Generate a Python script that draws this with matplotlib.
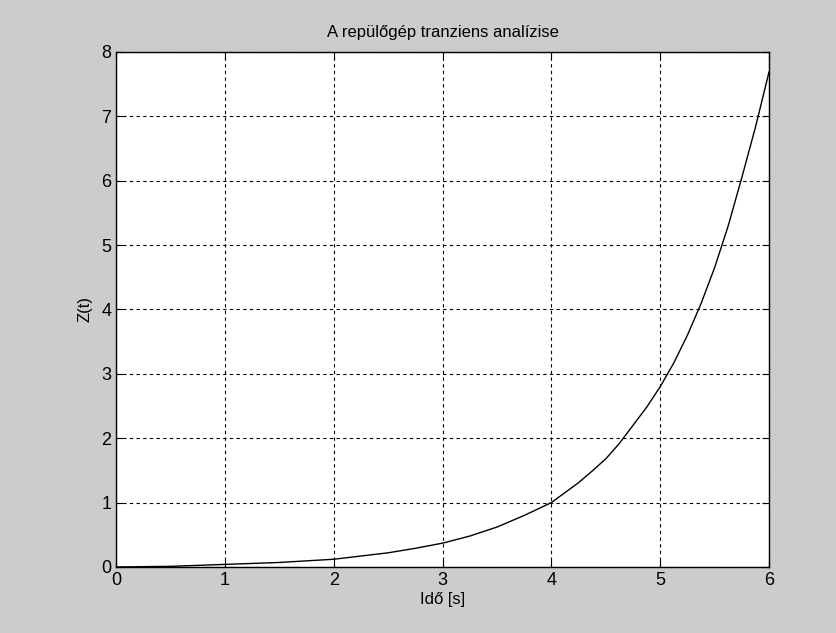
import matplotlib
matplotlib.use('Agg')
import matplotlib.pyplot as plt

# Values
ido = [0.0, 0.5, 1.0, 1.5, 2.0, 2.5, 2.75, 3.0, 3.25, 3.5, 3.75, 4.0, 4.25, 4.375, 4.5,
       4.625, 4.75, 4.875, 5.0, 5.125, 5.25, 5.375, 5.5, 5.625, 5.75, 5.875, 6.0]
z_t = [0.0, 0.01, 0.04, 0.07, 0.12, 0.22, 0.29, 0.37, 0.48, 0.62, 0.80, 1.0, 1.31, 1.49, 1.68,
       1.92, 2.20, 2.48, 2.80, 3.17, 3.60, 4.09, 4.65, 5.30, 6.05, 6.83, 7.69]
x_ticks = [0, 1, 2, 3, 4, 5, 6]
y_ticks = [0, 1, 2, 3, 4, 5, 6, 7, 8]

plt.rcParams['font.family'] = ['Liberation Sans', 'DejaVu Sans']

fig = plt.figure(figsize=(8.37, 6.33), dpi=100, facecolor='#cccccc')
ax = fig.add_axes([0.1386, 0.1043, 0.7802, 0.8136])
ax.set_facecolor('white')

ax.plot(ido, z_t, color='black', linewidth=1.0)

ax.set_xlim(0, 6)
ax.set_ylim(0, 8)
ax.set_xticks(x_ticks)
ax.set_yticks(y_ticks)
ax.tick_params(direction='in', top=True, right=True, length=5, labelsize=13, colors='black')
ax.grid(True, color='black', linestyle=(0, (3, 3)), linewidth=0.8)
for s in ax.spines.values():
    s.set_linewidth(1.0)

ax.set_title('A repülőgép tranziens analízise', fontsize=12, pad=11)
ax.set_xlabel('Idő [s]', fontsize=12, labelpad=2)
ax.set_ylabel('Z(t)', fontsize=12, labelpad=6)

fig.savefig('out.png', dpi=100, facecolor=fig.get_facecolor())
